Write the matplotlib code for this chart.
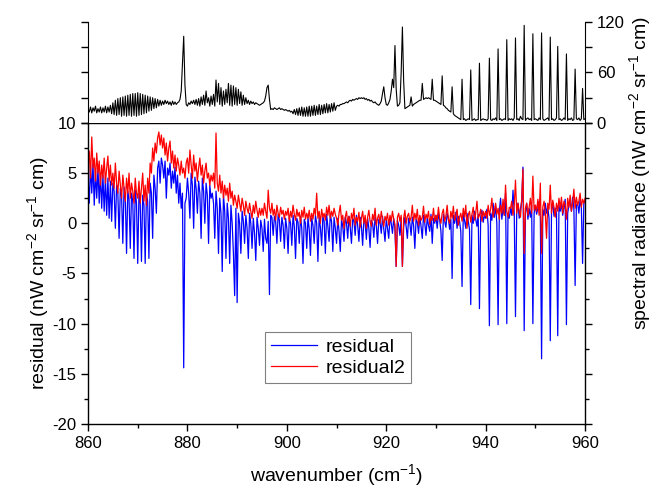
import numpy as np
import matplotlib.pyplot as plt
from matplotlib.ticker import MultipleLocator

plt.rcParams['font.family'] = ['Liberation Sans', 'DejaVu Sans']
plt.rcParams['mathtext.default'] = 'regular'
plt.rcParams['axes.unicode_minus'] = False

# wavenumber grid (cm-1), 0.25 steps from 860 to 960
wavenumber = np.linspace(860, 960, 401)

# spectral radiance (nW cm-2 sr-1 cm), 20 values per 5 cm-1
radiance = [
    16, 13, 19, 12, 18, 14, 20, 12, 17, 13, 19, 12, 18, 13, 20, 12, 19, 13, 21, 11,
    24, 10, 27, 9, 29, 10, 30, 8, 31, 9, 32, 8, 33, 9, 34, 8, 35, 9, 35, 8,
    36, 9, 35, 10, 34, 11, 33, 12, 32, 14, 31, 15, 30, 17, 29, 18, 28, 20, 27, 21,
    26, 22, 27, 23, 26, 22, 25, 21, 26, 22, 25, 22, 24, 25, 28, 38, 70, 103, 45, 22,
    20, 24, 22, 26, 23, 27, 22, 28, 21, 29, 20, 31, 22, 33, 21, 38, 24, 30, 20, 32,
    22, 34, 20, 51, 25, 47, 22, 42, 20, 38, 22, 40, 24, 47, 21, 45, 20, 44, 22, 42,
    21, 40, 23, 37, 21, 33, 22, 30, 23, 27, 22, 26, 23, 25, 22, 24, 23, 22, 21, 22,
    23, 24, 26, 32, 42, 45, 28, 16, 17, 16, 18, 17, 16, 17, 18, 16, 17, 16, 15, 16,
    15, 14, 15, 13, 14, 11, 16, 10, 17, 9, 18, 9, 19, 8, 18, 8, 19, 8, 20, 8,
    20, 9, 21, 9, 20, 10, 22, 10, 21, 11, 22, 12, 23, 12, 22, 13, 23, 14, 24, 15,
    20, 21, 20, 22, 22, 23, 23, 24, 25, 24, 26, 27, 26, 28, 27, 28, 29, 28, 30, 29,
    30, 29, 30, 28, 29, 27, 28, 26, 27, 25, 24, 25, 23, 22, 21, 23, 26, 35, 43, 30,
    22, 21, 24, 28, 38, 52, 42, 92, 40, 20, 21, 24, 60, 114, 50, 17, 18, 19, 20, 21,
    31, 20, 22, 23, 24, 25, 26, 27, 27, 47, 28, 29, 30, 29, 30, 29, 28, 52, 27, 27,
    26, 25, 24, 23, 22, 56, 21, 20, 18, 17, 15, 14, 13, 43, 11, 9, 8, 7, 6, 5,
    4, 52, 4, 5, 3, 4, 5, 4, 63, 3, 4, 5, 3, 4, 4, 71, 3, 4, 5, 4,
    4, 3, 5, 77, 4, 3, 5, 4, 6, 3, 88, 4, 5, 3, 4, 5, 4, 99, 3, 5,
    4, 5, 3, 6, 101, 4, 5, 3, 8, 5, 4, 116, 3, 5, 6, 4, 5, 3, 106, 4,
    5, 4, 3, 6, 4, 107, 5, 3, 4, 5, 6, 3, 102, 4, 5, 3, 4, 6, 91, 4,
    5, 3, 4, 6, 4, 82, 3, 5, 4, 6, 3, 4, 64, 5, 4, 6, 3, 5, 41, 4,
    5,
]

residual = [
    4.5, 2.0, 5.8, 3.0, 6.0, 1.8, 5.2, 2.5, 5.5, 2.0, 5.0, 1.5, 4.8, 1.2, 4.6, 0.8, 4.5, 0.5, 4.2, 0.2,
    4.0, 3.2, -0.5, 3.8, 3.0, -1.5, 3.5, 2.8, -2.0, 3.6, 2.5, -3.0, 3.2, 2.4, -2.5, 3.0, 2.2, -3.5, 3.3, 2.0,
    -4.0, 3.0, 2.0, -3.8, 2.8, 1.8, -4.0, 3.0, 2.2, -3.5, 4.0, 3.0, -1.5, 4.8, 3.5, 1.0, 5.5, 6.2, 4.0, 6.5,
    5.8, 4.5, 6.2, 2.5, 5.5, 4.8, 6.0, 3.5, 5.2, 4.0, 5.6, 3.0, 4.8, 2.0, 4.0, 1.5, 3.0, -14.4, 2.0, 2.5,
    4.5, 3.0, 0.5, 5.0, 3.8, -0.5, 4.6, 3.5, 1.0, 4.2, 3.0, -1.5, 4.5, 3.2, 0.0, 4.0, 2.8, -2.0, 3.8, 2.5,
    3.0, 2.0, -1.5, 3.2, 1.5, -3.0, 2.5, 1.0, -4.8, 2.8, 1.2, -3.5, 2.0, 0.5, -4.0, 1.8, 0.0, -3.0, -7.2, 1.5,
    -7.9, 1.0, 0.0, -3.0, 1.2, 0.2, -2.0, 0.8, -0.5, -3.5, 1.0, 0.0, -2.5, 0.5, -1.0, -3.7, 0.6, -0.5, -2.2, 0.3,
    -0.5, -2.8, 0.4, -1.5, -2.0, 0.2, -7.1, 0.8, 0.6, -1.2, 0.7, 0.2, -2.0, 0.9, 0.3, -1.8, 0.6, -0.2, -2.5, 0.5,
    -0.5, -3.0, 0.6, 0.0, -2.2, 0.8, -0.3, -3.5, 0.5, 0.1, -2.0, 0.7, -0.5, -4.0, 0.4, 0.0, -2.5, 0.6, -0.6, -3.2,
    0.5, -0.2, -2.0, 0.8, 0.0, -3.8, 0.6, -0.4, -2.2, 0.7, 0.2, -3.0, 0.9, -0.3, -1.8, 1.0, 0.1, -2.8, 0.6, -0.5,
    -2.0, 0.5, -0.8, -2.8, 0.4, -0.3, -1.8, 0.6, 0.0, -1.5, 0.7, -0.4, -2.0, 0.5, 0.2, -1.2, 0.8, -0.2, -1.8, 0.6,
    -0.3, -2.2, 0.4, 0.1, -1.6, 0.5, -0.5, -2.4, 0.3, 0.0, -1.4, 0.6, -0.2, -2.0, 0.4, 0.1, -1.0, 0.7, -0.6, -1.8,
    0.4, -0.5, -1.5, 0.6, 0.0, -1.0, 0.5, -0.6, -4.3, 0.3, -0.2, -1.2, 0.5, -4.3, -0.4, 0.6, -0.3, -1.5, 0.5, 0.0,
    -1.2, 0.6, -0.2, -2.5, 0.4, 0.1, -1.0, 0.7, -0.3, -1.5, 0.8, 0.0, -1.2, 0.6, -0.2, -0.8, 0.9, -2.0, 0.5, 0.0,
    0.8, -0.5, 1.0, 0.3, -0.8, -3.7, 0.9, 0.2, -0.4, 1.0, 0.5, -0.6, 0.4, -5.5, 0.8, 0.0, 1.1, -0.5, 0.7, 0.2,
    -0.8, -6.3, 0.9, 0.3, -0.5, 1.0, 0.2, -0.6, -8.1, 0.8, 0.0, 1.2, 0.4, -0.3, 0.9, -8.5, 0.6, 1.3, 0.1, 0.8,
    0.5, 1.4, -0.2, -10.2, 1.0, 0.3, 2.0, 0.6, 1.8, 0.0, -10.1, 1.2, 2.5, 0.4, 1.5, 0.8, 3.0, -10.0, 1.0, 0.5,
    1.5, 0.8, 3.3, 1.0, -9.3, 1.2, 2.0, 0.5, 1.4, 2.2, 5.6, -10.7, 1.0, 2.0, 0.4, 1.5, 0.6, 1.8, -10.0, 1.0,
    1.8, 0.9, 1.5, 2.2, 0.6, -13.5, 1.4, 0.8, 2.0, 1.0, 1.6, 0.5, -11.7, 1.3, 2.1, 0.7, 1.5, 1.0, -11.2, 1.8,
    1.2, 2.0, 0.8, 1.6, 2.4, -10.1, 1.0, 1.8, 2.2, 1.2, 2.6, 1.5, -6.2, 1.8, 2.0, 1.0, 2.4, 1.6, -4.0, 2.0,
    2.2,
]

residual2 = [
    6.0, 7.2, 4.5, 8.6, 5.5, 6.5, 4.2, 7.0, 5.0, 6.2, 3.8, 5.8, 4.5, 6.5, 4.0, 5.5, 6.7, 4.2, 5.8, 3.8,
    5.0, 3.5, 6.0, 4.0, 3.0, 5.2, 3.8, 2.5, 4.8, 3.5, 2.2, 4.5, 3.0, 5.0, 2.5, 4.0, 3.2, 2.0, 4.5, 3.0,
    2.5, 4.2, 2.0, 3.5, 5.0, 2.2, 3.8, 1.8, 4.5, 3.0, 6.0, 5.0, 7.5, 6.2, 8.0, 7.0, 8.5, 9.1, 7.8, 8.8,
    7.5, 8.5, 6.8, 8.0, 6.2, 7.5, 8.2, 6.0, 7.2, 5.5, 6.8, 5.2, 6.5, 5.8, 4.8, 6.2, 5.0, 5.5, 4.5, 6.0,
    6.5, 5.0, 7.3, 5.8, 4.5, 6.8, 5.2, 6.0, 4.2, 5.5, 6.5, 4.8, 5.8, 4.0, 5.2, 6.0, 4.5, 5.0, 3.8, 4.8,
    4.2, 5.0, 3.5, 9.0, 4.0, 3.2, 4.8, 3.0, 4.2, 2.5, 3.8, 2.8, 3.5, 2.2, 4.0, 2.5, 3.2, 1.8, 2.8, 2.2,
    1.5, 2.8, 2.0, 1.2, 2.5, 1.8, 0.8, 2.2, 1.5, 1.0, 2.0, 1.2, 0.5, 1.8, 1.0, 2.2, 1.3, 0.6, 1.5, 0.8,
    1.5, 0.8, 2.0, 1.2, 0.5, 3.3, 1.5, 1.0, 2.0, 0.8, 1.4, 0.3, 1.8, 1.0, 0.6, 1.6, 0.9, 1.3, 0.4, 1.2,
    0.8, 1.5, 0.2, 1.2, 0.6, 1.8, 0.9, 0.3, 1.4, 0.7, 1.1, 0.0, 1.3, 0.6, 1.6, 0.4, 1.0, 0.5, 1.3, 0.2,
    1.0, 0.4, 1.5, 0.8, 3.0, 0.5, 1.2, 0.0, 1.4, 0.6, 1.0, 0.3, 1.6, 0.8, 1.8, 0.5, 1.2, 0.7, 1.5, 0.9,
    0.5, -0.2, 1.0, 1.8, 0.3, 0.8, -0.5, 0.6, 1.2, 0.0, 0.7, -0.3, 1.0, 0.4, 1.5, -0.2, 0.6, 0.2, 1.1, -0.4,
    0.5, 1.2, 0.0, 0.8, -0.5, 0.6, 1.3, 0.2, -0.3, 0.9, 0.3, 1.5, -0.2, 0.5, 0.9, 0.0, 1.2, 0.4, -0.3, 0.7,
    0.3, 1.0, -0.2, 0.8, 0.2, 1.2, 0.4, -0.1, -4.3, 0.6, 1.0, 0.2, 0.8, -4.3, 0.5, 1.3, 0.0, 0.7, 1.0, 0.2,
    0.6, 1.8, 0.2, 1.0, 0.4, 1.4, -0.2, 0.8, 0.3, 0.6, 1.7, 0.1, 0.9, 0.5, 1.2, -0.1, 0.7, 0.3, 1.5, 0.2,
    0.8, 0.3, 1.6, 0.5, 0.0, 1.0, 1.4, 0.2, 0.7, 1.8, 0.4, 0.0, 1.2, 0.5, 1.7, 0.3, 0.8, 1.4, -0.2, 0.6,
    1.0, 0.2, 1.5, 0.6, 1.8, -0.5, 0.8, 1.2, 0.1, 0.9, 1.6, 0.3, 1.0, 2.2, 0.5, 0.8, 1.4, 0.2, 1.2, 0.7,
    1.2, 0.5, 1.8, 0.8, 1.4, 2.5, 0.6, 1.2, 2.0, 0.9, 1.5, 0.4, 1.8, 1.0, 2.4, 0.8, 3.8, 1.2, 0.6, 1.6,
    1.5, 2.2, 0.8, 1.8, 4.3, 1.0, 2.0, 1.2, 0.6, 2.4, 5.4, -3.0, 1.5, 2.0, 0.8, 1.6, 2.5, 1.0, 4.7, 1.3,
    1.8, 1.2, 2.4, 0.8, 4.0, -3.0, 1.6, 2.2, 1.0, -1.5, 2.0, 1.4, 3.8, 1.0, 2.3, 1.6, 0.6, 2.0, 1.2, 2.5,
    1.5, 2.6, 1.0, 2.2, 1.8, 0.4, 2.5, 1.6, 2.8, 1.2, 2.0, 3.4, 1.5, 2.6, 1.8, 2.2, 3.0, 1.6, 2.4, 2.0,
    2.5,
]

fig = plt.figure(figsize=(6.54, 4.88), dpi=100)
ax = fig.add_axes([0.1346, 0.1311, 0.760, 0.617])
ax_top = fig.add_axes([0.1346, 0.748, 0.760, 0.207])

# residual panel
ax.plot(wavenumber, residual, color='#0000ff', lw=0.9, label='residual')
ax.plot(wavenumber, residual2, color='#ff0000', lw=0.9, label='residual2')
ax.set_xlim(860, 960)
ax.set_ylim(-20, 10)
ax.xaxis.set_major_locator(MultipleLocator(20))
ax.xaxis.set_minor_locator(MultipleLocator(10))
ax.yaxis.set_major_locator(MultipleLocator(5))
ax.yaxis.set_minor_locator(MultipleLocator(2.5))
ax.tick_params(which='both', direction='out', labelsize=12, width=1, right=True)
ax.tick_params(which='major', length=5)
ax.tick_params(which='minor', length=3)
ax.set_xlabel('wavenumber (cm$^{-1}$)', fontsize=14, labelpad=8)
ax.set_ylabel('residual (nW cm$^{-2}$ sr$^{-1}$ cm)', fontsize=14, labelpad=1)
leg = ax.legend(loc='lower left', bbox_to_anchor=(0.356, 0.136), borderaxespad=0,
                fontsize=14, fancybox=False, framealpha=1, edgecolor='#808080',
                handlelength=2.4, handletextpad=0.4, labelspacing=0.2, borderpad=0.3)
leg.get_frame().set_linewidth(0.8)
for s in ax.spines.values():
    s.set_linewidth(1)

# spectrum panel
ax_top.plot(wavenumber, radiance, color='black', lw=0.8)
ax_top.set_xlim(860, 960)
ax_top.set_ylim(0, 120)
ax_top.spines['top'].set_visible(False)
ax_top.spines['bottom'].set_visible(False)
ax_top.set_xticks([])
ax_top.yaxis.set_major_locator(MultipleLocator(60))
ax_top.yaxis.set_minor_locator(MultipleLocator(30))
ax_top.tick_params(which='both', direction='out', labelsize=12, width=1,
                   left=True, right=True, labelleft=False, labelright=True)
ax_top.tick_params(which='major', length=5)
ax_top.tick_params(which='minor', length=5)

fig.text(0.979, 0.645, 'spectral radiance (nW cm$^{-2}$ sr$^{-1}$ cm)', fontsize=14,
         rotation=90, ha='center', va='center')

fig.savefig('out.png', dpi=100)
